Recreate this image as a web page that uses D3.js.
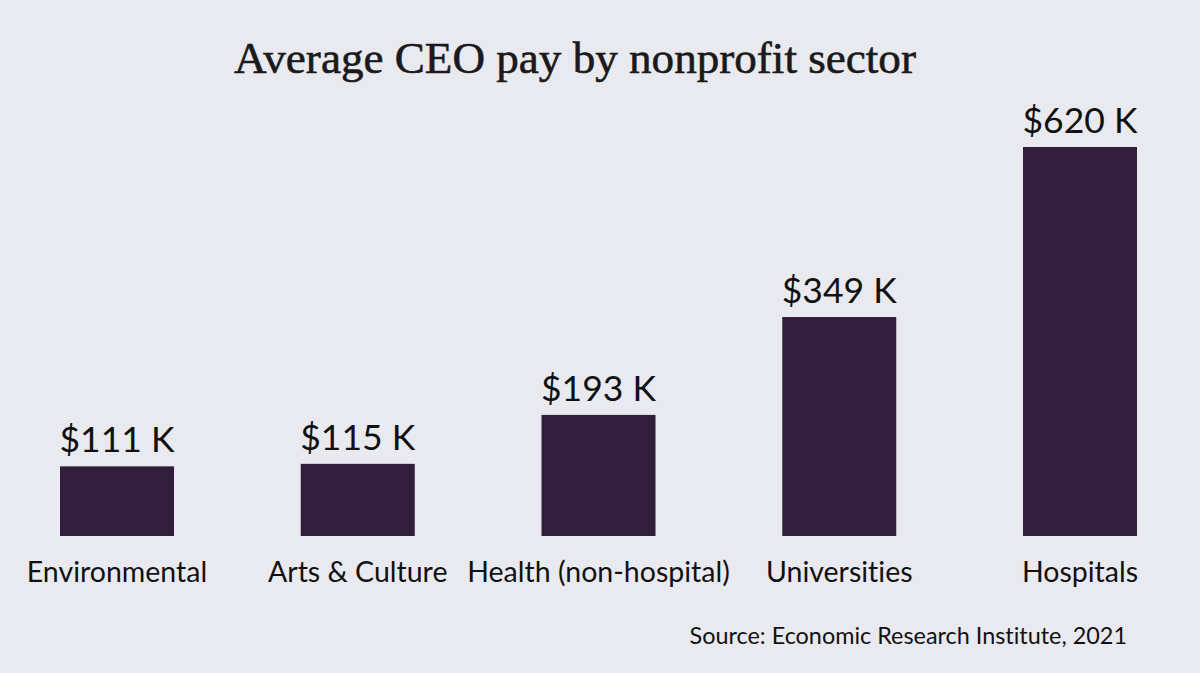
<!DOCTYPE html>
<html>
<head>
<meta charset="utf-8">
<script src="https://cdn.jsdelivr.net/npm/d3@7"></script>
<style>
  html, body { margin: 0; padding: 0; background: #e9e9f0; }
  svg { display: block; }
  text { font-variant-ligatures: none; }
</style>
</head>
<body>
<div id="bar-chart"></div>
<script>
// Data
const sectors = ["Environmental", "Arts & Culture", "Health (non-hospital)", "Universities", "Hospitals"];
const avgPay = [111, 115, 193, 349, 620];   // thousands of dollars
const valueLabels = ["$111 K", "$115 K", "$193 K", "$349 K", "$620 K"];
const titleText = "Average CEO pay by nonprofit sector";
const sourceText = "Source: Economic Research Institute, 2021";

const drawBarChart = () => {

  /****************************/
  /* Declare size constants   */
  /****************************/
  const width = 1200;
  const height = 673;
  const baseline = 536;
  const barWidth = 114;

  const svg = d3.select("#bar-chart")
    .append("svg")
      .attr("width", width)
      .attr("height", height)
      .attr("viewBox", `0 0 ${width} ${height}`);

  svg.append("rect")
    .attr("width", width)
    .attr("height", height)
    .attr("fill", "#e9e9f0");

  /****************************/
  /*     Declare scales       */
  /****************************/
  const xScale = d3.scalePoint()
    .domain(sectors)
    .range([117, 1080]);

  const yScale = d3.scaleLinear()
    .domain([0, d3.max(avgPay)])
    .range([baseline, 147]);

  const rows = sectors.map((s, i) => ({sector: s, value: avgPay[i], label: valueLabels[i]}));

  /****************************/
  /*     Title                */
  /****************************/
  const title = svg.append("text")
    .attr("x", 575)
    .attr("y", 73)
    .attr("text-anchor", "middle")
    .attr("font-family", "'Liberation Serif', serif")
    .attr("font-size", 40)
    .attr("fill", "#1a1a1a")
    .attr("stroke", "#1a1a1a")
    .attr("stroke-width", 0.6)
    .text(titleText);
  // fit title to the width it has in the picture
  const tw = title.node().getComputedTextLength();
  title.attr("font-size", 40 * 682 / tw);

  /****************************/
  /*     Bars                 */
  /****************************/
  svg.selectAll("rect.bar")
    .data(rows)
    .join("rect")
      .attr("class", "bar")
      .attr("x", d => xScale(d.sector) - barWidth / 2)
      .attr("y", d => yScale(d.value))
      .attr("width", barWidth)
      .attr("height", d => baseline - yScale(d.value))
      .attr("fill", "#301e3a");

  // value labels
  svg.selectAll("text.value")
    .data(rows)
    .join("text")
      .attr("class", "value")
      .attr("x", d => xScale(d.sector))
      .attr("y", d => yScale(d.value) - 14)
      .attr("text-anchor", "middle")
      .attr("font-family", "Lato, sans-serif")
      .attr("font-size", 35.5)
      .attr("fill", "#111")
      .text(d => d.label);

  // category labels
  svg.selectAll("text.category")
    .data(rows)
    .join("text")
      .attr("class", "category")
      .attr("x", d => xScale(d.sector))
      .attr("y", 582)
      .attr("text-anchor", "middle")
      .attr("font-family", "Lato, sans-serif")
      .attr("font-size", 28.5)
      .attr("fill", "#111")
      .text(d => d.sector);

  // source
  svg.append("text")
    .attr("x", 1127)
    .attr("y", 644)
    .attr("text-anchor", "end")
    .attr("font-family", "Lato, sans-serif")
    .attr("font-size", 23.4)
    .attr("fill", "#111")
    .text(sourceText);
};

drawBarChart();
</script>
</body>
</html>
